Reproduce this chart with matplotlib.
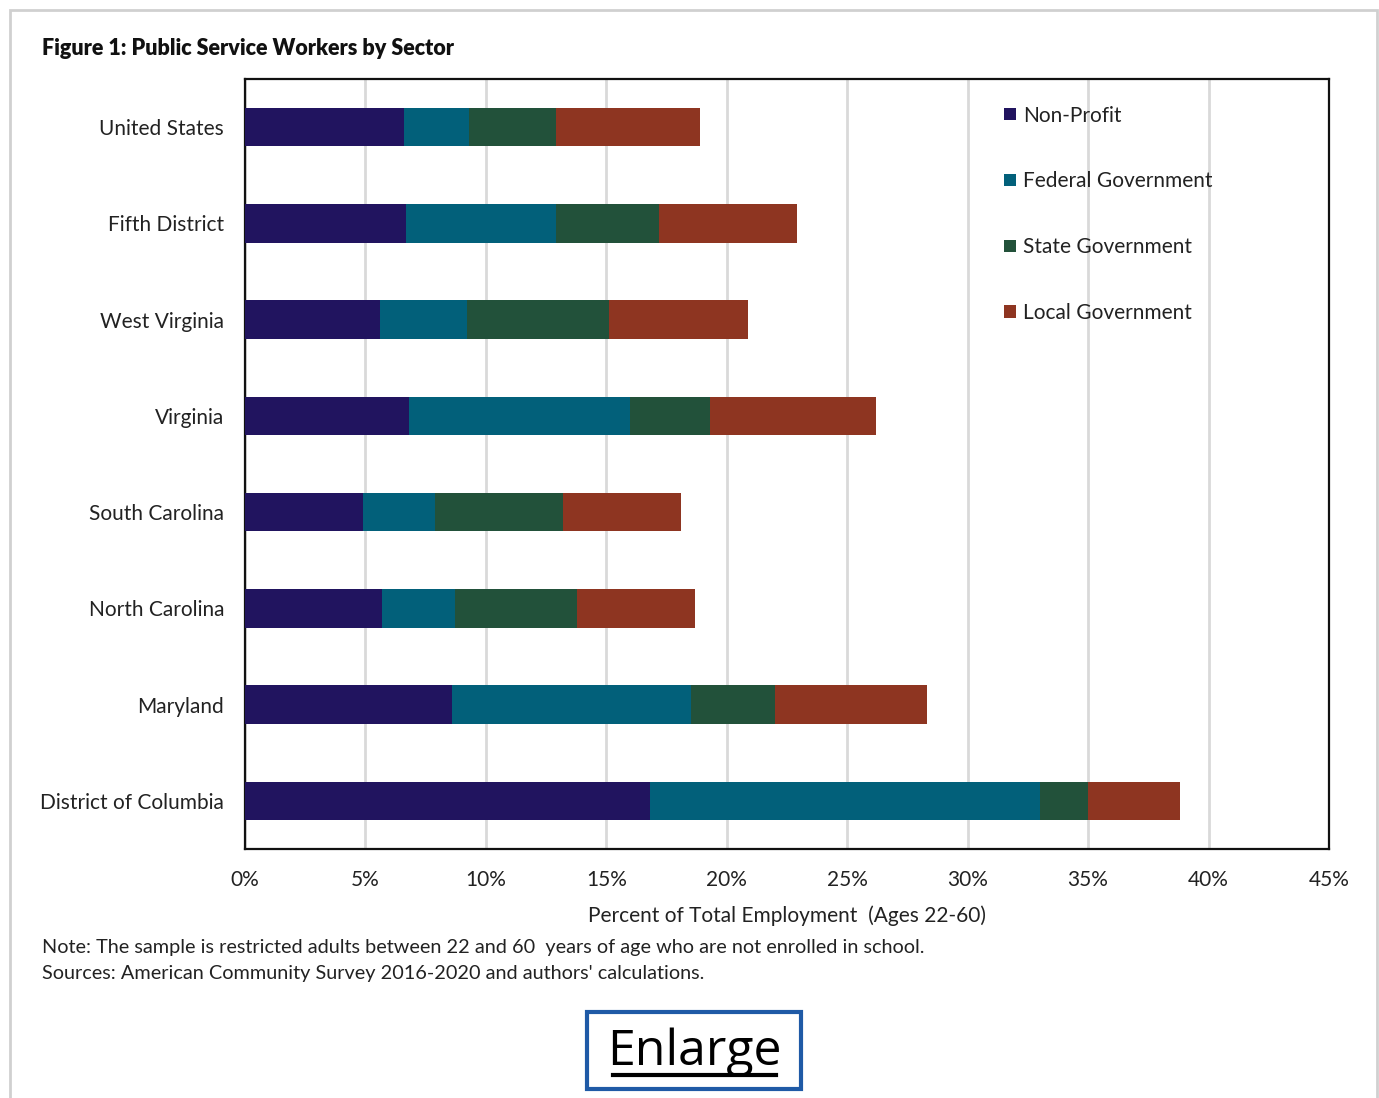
import matplotlib
matplotlib.use('Agg')
import matplotlib.pyplot as plt
from matplotlib.patches import Rectangle
from matplotlib.ticker import FuncFormatter

regions = ['United States', 'Fifth District', 'West Virginia', 'Virginia',
           'South Carolina', 'North Carolina', 'Maryland', 'District of Columbia']
non_profit = [6.6, 6.7, 5.6, 6.8, 4.9, 5.7, 8.6, 16.8]
federal = [2.7, 6.2, 3.6, 9.2, 3.0, 3.0, 9.9, 16.2]
state = [3.6, 4.3, 5.9, 3.3, 5.3, 5.1, 3.5, 2.0]
local = [6.0, 5.7, 5.8, 6.9, 4.9, 4.9, 6.3, 3.8]

sectors = ['Non-Profit', 'Federal Government', 'State Government', 'Local Government']
colors = ['#21145F', '#02607A', '#22513A', '#8E3521']

plt.rcParams['font.family'] = ['Lato', 'DejaVu Sans']

fig = plt.figure(figsize=(13.79, 10.98), dpi=100)
ax = fig.add_axes([0.1777, 0.2268, 0.786, 0.7012])

y = list(range(len(regions)))
left = [0.0] * len(regions)
for name, vals, col in zip(sectors, [non_profit, federal, state, local], colors):
    ax.barh(y, vals, left=left, height=0.4, color=col, label=name, zorder=3)
    left = [a + b for a, b in zip(left, vals)]

ax.set_ylim(len(regions) - 0.5, -0.5)
ax.set_xlim(0, 45)
ax.set_xticks(range(0, 46, 5))
ax.xaxis.set_major_formatter(FuncFormatter(lambda v, p: '%d%%' % v))
ax.set_yticks(y)
ax.set_yticklabels(regions)
ax.tick_params(axis='both', length=0, labelsize=15, colors='#222222')
ax.tick_params(axis='x', pad=15)
ax.tick_params(axis='y', pad=15)
ax.grid(axis='x', color='#D9D9D9', linewidth=2, zorder=0)
for s in ax.spines.values():
    s.set_color('#111111')
    s.set_linewidth(1.6)
ax.set_xlabel('Percent of Total Employment  (Ages 22-60)', fontsize=15,
              color='#222222', labelpad=11)

leg = ax.legend(loc='upper left', bbox_to_anchor=(0.683, 0.99), frameon=False,
                fontsize=15, labelspacing=2.2, handlelength=0.55, handleheight=0.55,
                handletextpad=0.35, labelcolor='#222222')

fig.text(0.0305, 0.956, 'Figure 1: Public Service Workers by Sector',
         fontsize=15.5, fontweight='heavy', color='#111111', va='center')
fig.text(0.0305, 0.1375,
         'Note: The sample is restricted adults between 22 and 60  years of age who are not enrolled in school.',
         fontsize=14.3, color='#222222', va='center')
fig.text(0.0305, 0.1138,
         "Sources: American Community Survey 2016-2020 and authors' calculations.",
         fontsize=14.3, color='#222222', va='center')

# outer frame and the Enlarge box
fig.patches.append(Rectangle((0.0073, -0.01), 0.9913, 1.0009, transform=fig.transFigure,
                             fill=False, edgecolor='#D0D0D0', linewidth=2))
fig.patches.append(Rectangle((587 / 1379, 1 - 1089 / 1098), 214 / 1379, 77 / 1098,
                             transform=fig.transFigure, fill=False,
                             edgecolor='#1F5AA6', linewidth=3))
fig.text(694 / 1379, 1 - 1052 / 1098, 'Enlarge', fontsize=36, color='black',
         ha='center', va='center', family=['Open Sans', 'DejaVu Sans'])
fig.add_artist(plt.Line2D([613 / 1379, 776 / 1379], [1 - 1075 / 1098, 1 - 1075 / 1098],
                          transform=fig.transFigure, color='black', linewidth=3))

fig.savefig('out.png', dpi=100)
plt.close(fig)
